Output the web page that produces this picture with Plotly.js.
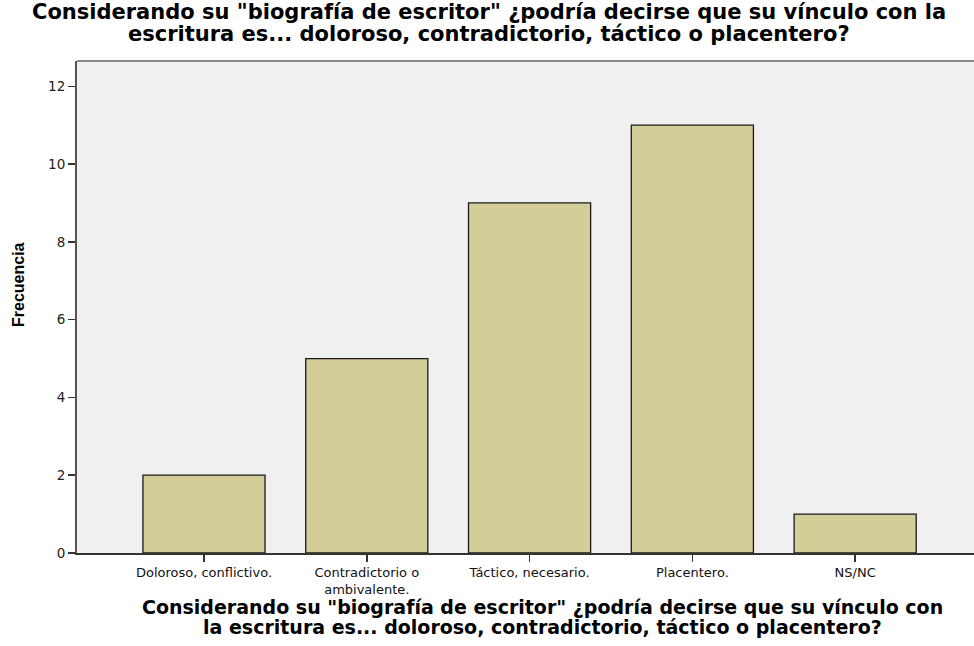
<!DOCTYPE html>
<html>
<head>
<meta charset="utf-8">
<script src="https://cdn.plot.ly/plotly-3.0.1.min.js"></script>
<style>html,body{margin:0;padding:0;background:#fff;}#chart{width:974px;height:646px;}</style>
</head>
<body>
<div id="chart"></div>
<script>
const categories = ["Doloroso, conflictivo.", "Contradictorio o<br>ambivalente.", "Táctico, necesario.", "Placentero.", "NS/NC"];
const frecuencia = [2, 5, 9, 11, 1];
const yTicks = [0, 2, 4, 6, 8, 10, 12];
const titleLines = ["Considerando su \"biografía de escritor\" ¿podría decirse que su vínculo con la", "escritura es... doloroso, contradictorio, táctico o placentero?"];
const xTitleLines = ["Considerando su \"biografía de escritor\" ¿podría decirse que su vínculo con", "la escritura es... doloroso, contradictorio, táctico o placentero?"];

const trace = {
  type: 'bar',
  x: categories,
  y: frecuencia,
  marker: {color: '#d3ce97', line: {color: '#1a1a1a', width: 1.3}},
  hoverinfo: 'none'
};

const annotations = [];
titleLines.forEach((t, i) => annotations.push({
  text: t, xref: 'paper', yref: 'paper', x: (489 - 77) / 897, y: 1, yshift: 61 - [12, 34][i],
  xanchor: 'center', yanchor: 'middle', showarrow: false,
  font: {family: 'DejaVu Sans, Verdana, sans-serif', size: 21, color: '#000', weight: 'bold'}
}));
xTitleLines.forEach((t, i) => annotations.push({
  text: t, xref: 'paper', yref: 'paper', x: (542 - 77) / 897, y: 0, yshift: -([607, 627][i] - 553),
  xanchor: 'center', yanchor: 'middle', showarrow: false,
  font: {family: 'DejaVu Sans, Verdana, sans-serif', size: 19, color: '#000', weight: 'bold'}
}));
annotations.push({
  text: 'Frecuencia', xref: 'paper', yref: 'paper', x: 0, xshift: 18 - 77, y: (553 - 285) / 492,
  textangle: -90, xanchor: 'center', yanchor: 'middle', showarrow: false,
  font: {family: 'Liberation Sans Narrow, Liberation Sans, Arial, sans-serif', size: 16, color: '#000', weight: 'bold'}
});

const layout = {
  width: 974, height: 646,
  margin: {l: 77, r: 0, t: 61, b: 93, pad: 0},
  paper_bgcolor: '#ffffff',
  plot_bgcolor: '#f0f0f0',
  bargap: 0.25,
  showlegend: false,
  xaxis: {
    type: 'category', range: [-0.78, 4.73],
    showline: true, linecolor: '#333', linewidth: 1.5,
    ticks: 'outside', ticklen: 7, tickcolor: '#333', tickwidth: 1.5,
    tickfont: {family: 'DejaVu Sans, Verdana, sans-serif', size: 13, color: '#111'},
    showgrid: false, zeroline: false, fixedrange: true
  },
  yaxis: {
    range: [0, 12.65], tickvals: yTicks, ticktext: yTicks.map(String),
    showline: true, linecolor: '#555', linewidth: 2, mirror: false,
    ticks: 'outside', ticklen: 7, tickcolor: '#333', tickwidth: 1.5,
    tickfont: {family: 'DejaVu Sans, Verdana, sans-serif', size: 13.5, color: '#222'},
    showgrid: false, zeroline: false, fixedrange: true
  },
  shapes: [{type: 'line', xref: 'paper', yref: 'paper', x0: 0, x1: 1, y0: 1, y1: 1, line: {color: '#888', width: 2}}],
  annotations: annotations
};

Plotly.newPlot('chart', [trace], layout, {displayModeBar: false, staticPlot: true});
</script>
</body>
</html>
